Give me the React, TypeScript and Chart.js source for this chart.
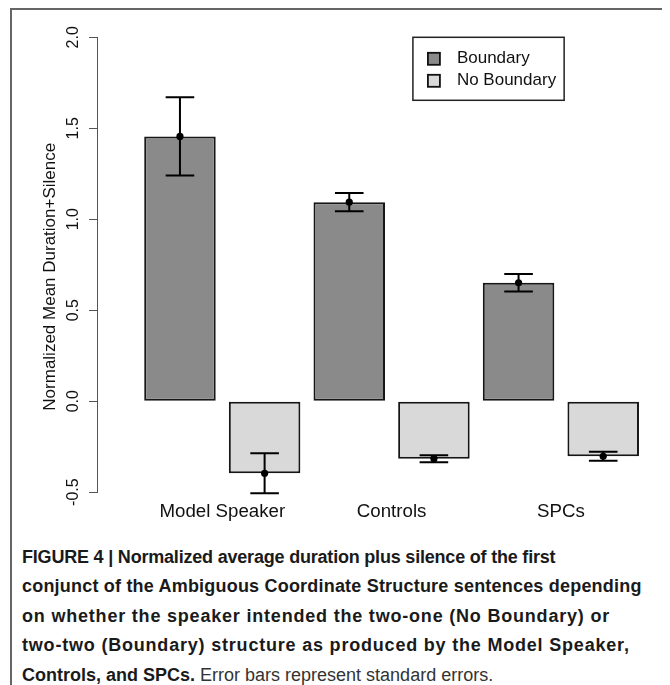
import React, { useEffect, useRef } from 'react';
import { Chart, registerables } from 'chart.js';

Chart.register(...registerables);

const categories = ['Model Speaker', 'Controls', 'SPCs'];
const seriesNames = ['Boundary', 'No Boundary'];
const boundaryMeans = [1.455, 1.094, 0.651];
const boundarySE = [0.215, 0.05, 0.048];
const noBoundaryMeans = [-0.396, -0.316, -0.303];
const noBoundarySE = [0.11, 0.019, 0.025];
const yTicks = [-0.5, 0, 0.5, 1.0, 1.5, 2.0];
const yLabels = ['-0.5', '0.0', '0.5', '1.0', '1.5', '2.0'];
const yTitle = 'Normalized Mean Duration+Silence';
const seriesColors = ['#8a8a8a', '#d9d9d9'];

const FONT = '"Liberation Sans", Arial, Helvetica, sans-serif';
const LEGEND_X = 1.126; // legend left edge, in group units (like R's legend(x, y))
const LEGEND_Y = 2.0;

const errorBarPlugin = {
  id: 'errorBars',
  afterDatasetsDraw(chart: any) {
    const { ctx } = chart;
    const y = chart.scales.y;
    const means = [boundaryMeans, noBoundaryMeans];
    const ses = [boundarySE, noBoundarySE];
    ctx.save();
    chart.data.datasets.forEach((_ds: any, di: number) => {
      const meta = chart.getDatasetMeta(di);
      meta.data.forEach((bar: any, i: number) => {
        const m = means[di][i];
        const se = ses[di][i];
        const x = bar.x;
        const yTop = y.getPixelForValue(m + se);
        const yBot = y.getPixelForValue(m - se);
        const yMid = y.getPixelForValue(m);
        const half = bar.width * 0.2;
        ctx.strokeStyle = '#000';
        ctx.lineWidth = 2;
        ctx.beginPath();
        ctx.moveTo(x, yTop);
        ctx.lineTo(x, yBot);
        ctx.moveTo(x - half, yTop);
        ctx.lineTo(x + half, yTop);
        ctx.moveTo(x - half, yBot);
        ctx.lineTo(x + half, yBot);
        ctx.stroke();
        ctx.beginPath();
        ctx.arc(x, yMid, 3.6, 0, Math.PI * 2);
        ctx.fillStyle = '#000';
        ctx.fill();
      });
    });
    ctx.restore();
  },
};

const yTitlePlugin = {
  id: 'yTitle',
  afterDraw(chart: any) {
    const { ctx, chartArea } = chart;
    ctx.save();
    ctx.font = `17px ${FONT}`;
    ctx.fillStyle = '#111';
    ctx.textAlign = 'center';
    ctx.textBaseline = 'middle';
    ctx.translate(chartArea.left - 47, (chartArea.top + chartArea.bottom) / 2 + 12);
    ctx.rotate(-Math.PI / 2);
    ctx.fillText(yTitle, 0, 0);
    ctx.restore();
  },
};

const boxLegendPlugin = {
  id: 'boxLegend',
  afterDraw(chart: any) {
    const { ctx } = chart;
    const left = chart.scales.x.getPixelForValue(LEGEND_X);
    const top = chart.scales.y.getPixelForValue(LEGEND_Y);
    ctx.save();
    ctx.font = `17px ${FONT}`;
    const textW = Math.max(...seriesNames.map((n) => ctx.measureText(n).width));
    const padL = 15;
    const sw = 12;
    const gap = 17;
    const padR = 8;
    const rowH = 22;
    const width = padL + sw + gap + textW + padR;
    const height = 63;
    ctx.lineWidth = 1.5;
    ctx.strokeStyle = '#222';
    ctx.fillStyle = '#fff';
    ctx.fillRect(left, top, width, height);
    ctx.strokeRect(left, top, width, height);
    seriesNames.forEach((name, i) => {
      const cy = top + rowH * (i + 1) - 0.5;
      ctx.fillStyle = seriesColors[i];
      ctx.fillRect(left + padL, cy - sw / 2, sw, sw);
      ctx.strokeStyle = '#111';
      ctx.lineWidth = 1.8;
      ctx.strokeRect(left + padL, cy - sw / 2, sw, sw);
      ctx.fillStyle = '#111';
      ctx.textBaseline = 'middle';
      ctx.textAlign = 'left';
      ctx.fillText(name, left + padL + sw + gap, cy);
    });
    ctx.restore();
  },
};

function BarChart() {
  const ref = useRef<HTMLCanvasElement | null>(null);
  useEffect(() => {
    if (!ref.current) return;
    const chart = new Chart(ref.current, {
      type: 'bar',
      data: {
        datasets: [
          {
            label: seriesNames[0],
            data: categories.map((_c, i) => ({ x: i, y: boundaryMeans[i] })),
            backgroundColor: seriesColors[0],
            borderColor: '#161616',
            borderWidth: 2,
            borderSkipped: false,
          },
          {
            label: seriesNames[1],
            data: categories.map((_c, i) => ({ x: i, y: noBoundaryMeans[i] })),
            backgroundColor: seriesColors[1],
            borderColor: '#161616',
            borderWidth: 2,
            borderSkipped: false,
          },
        ],
      } as any,
      options: {
        responsive: false,
        animation: false,
        datasets: { bar: { barPercentage: 0.845, categoryPercentage: 1.0 } },
        layout: { padding: { left: 53.8, top: 27.3, right: 13, bottom: 7.4 } },
        plugins: { legend: { display: false }, tooltip: { enabled: false } },
        scales: {
          x: {
            type: 'linear',
            offset: false,
            bounds: 'data',
            grace: 0,
            min: -0.74,
            max: 2.55,
            afterBuildTicks: (scale: any) => {
              scale.ticks = categories.map((_c, i) => ({ value: i }));
            },
            ticks: {
              callback: (v: any) => categories[Number(v)] ?? '',
              font: { family: FONT, size: 18.7 },
              color: '#111',
              padding: 8,
              maxRotation: 0,
              minRotation: 0,
              autoSkip: false,
            },
            grid: { display: false, drawTicks: false, offset: false },
            border: { display: false },
          },
          y: {
            min: -0.5,
            max: 2.0,
            afterBuildTicks: (scale: any) => {
              scale.ticks = yTicks.map((v) => ({ value: v }));
            },
            ticks: {
              callback: (v: any) => yLabels[yTicks.indexOf(Number(v))] ?? '',
              font: { family: FONT, size: 16 },
              color: '#111',
              padding: 2,
              minRotation: 90,
              maxRotation: 90,
              crossAlign: 'center',
              autoSkip: false,
            },
            grid: { drawOnChartArea: false, drawTicks: true, tickLength: 8, color: '#555', lineWidth: 1 },
            border: { display: true, color: '#555', width: 1 },
            title: { display: false },
          },
        },
      } as any,
      plugins: [errorBarPlugin, boxLegendPlugin, yTitlePlugin],
    });
    return () => chart.destroy();
  }, []);
  return <canvas ref={ref} width={655} height={528} style={{ display: 'block', position: 'absolute', left: 0, top: 0 }} />;
}

export default function App() {
  const bold: React.CSSProperties = { fontWeight: 700, color: '#1a1a1a' };
  return (
    <div
      style={{
        position: 'relative',
        marginLeft: 2,
        width: 659,
        height: 700,
        border: '2px solid #666',
        boxSizing: 'border-box',
        background: '#fff',
        fontFamily: FONT,
      }}
    >
      <BarChart />
      <div
        style={{
          position: 'absolute',
          left: 10,
          top: 533,
          fontSize: 18,
          lineHeight: '29.4px',
          whiteSpace: 'nowrap',
        }}
      >
        <span style={{ ...bold, letterSpacing: '-0.2px' }}>FIGURE 4 | Normalized average duration plus silence of the first</span>
        <br />
        <span style={{ ...bold, letterSpacing: '0.2px' }}>conjunct of the Ambiguous Coordinate Structure sentences depending</span>
        <br />
        <span style={{ ...bold, letterSpacing: '0.8px' }}>on whether the speaker intended the two-one (No Boundary) or</span>
        <br />
        <span style={{ ...bold, letterSpacing: '0.8px' }}>two-two (Boundary) structure as produced by the Model Speaker,</span>
        <br />
        <span style={bold}>Controls, and SPCs.</span>
        <span style={{ color: '#333', fontSize: 18 }}> Error bars represent standard errors.</span>
      </div>
    </div>
  );
}
